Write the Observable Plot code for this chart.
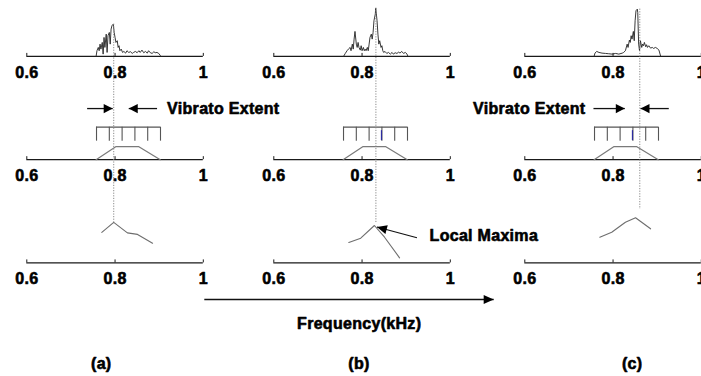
<!DOCTYPE html>
<html><head><meta charset="utf-8">
<script src="https://cdn.jsdelivr.net/npm/d3@7"></script>
<script src="https://cdn.jsdelivr.net/npm/@observablehq/plot@0.6"></script>
<style>
html,body{margin:0;padding:0;background:#fff;}
#chart{position:relative;width:701px;height:376px;overflow:hidden;background:#fff;}
#chart svg{position:absolute;top:0;overflow:visible;}
#chart text{letter-spacing:0.3px;}
#chart text.tl{letter-spacing:1px;}
</style></head><body><div id="chart"></div>
<script>
// ---------- data ----------
const panels = ["a", "b", "c"];
const panelLabels = ["(a)", "(b)", "(c)"];
const tickValues = [0.6, 0.8, 1];
const tickLabels = ["0.6", "0.8", "1"];
const rowLevels = [2, 1, 0];          // spectrum row, filter-bank row, output row
const ampPerRow = 103.25;             // amplitude units per row level

// spectra (frequency kHz, magnitude)
const specFreqA = [0.757,0.759,0.762,0.764,0.766,0.768,0.771,0.773,0.775,0.777,0.780,0.782,0.784,0.787,0.789,0.791,0.793,0.796,0.798,0.800,0.802,0.805,0.807,0.809,0.811,0.814,0.817,0.820,0.824,0.827,0.831,0.835,0.839,0.842,0.846,0.850,0.854,0.857,0.861,0.865,0.869,0.873,0.876,0.880,0.884,0.888,0.891,0.895,0.899,0.903,0.904];
const specAmpA  = [0,5.7,9,5.7,12.3,7.3,14,2.3,19,9,22.3,4,20.7,24,12.3,27.3,30.7,32.3,24,19,14,15.7,9,10.7,5.7,7.3,4,5,3.3,5.7,4,4.7,3,4,5,3.7,5.7,4,6.3,3.7,5,3.3,5.7,3.7,3,4.7,3.7,4,3,0.7,0];
const specFreqB = [0.758,0.762,0.766,0.769,0.773,0.775,0.778,0.780,0.782,0.784,0.787,0.789,0.791,0.793,0.796,0.798,0.800,0.803,0.805,0.807,0.809,0.812,0.814,0.816,0.818,0.821,0.823,0.825,0.827,0.830,0.831,0.834,0.836,0.838,0.840,0.843,0.845,0.847,0.849,0.852,0.856,0.860,0.864,0.868,0.871,0.875,0.879,0.883,0.886,0.890,0.894,0.898,0.902,0.904];
const specAmpB  = [0,3,5.7,7.3,9,5.7,12.3,7.3,17.3,25,12.3,9,14,9,6.3,10.7,5.7,9,5.7,7.3,5.7,9,5.7,12.3,19,22.3,17.3,24,35.7,42.3,48.3,35.7,22.3,12.3,15.7,9,10.7,5.7,4,5,3,4,2.3,4,2.3,3.7,3,4.3,3.3,5,3,4,2.3,0];
const specFreqC = [0.757,0.759,0.763,0.768,0.775,0.783,0.790,0.798,0.806,0.813,0.821,0.824,0.828,0.832,0.834,0.837,0.839,0.841,0.843,0.846,0.848,0.850,0.852,0.855,0.856,0.858,0.860,0.862,0.865,0.867,0.869,0.871,0.874,0.876,0.878,0.881,0.885,0.889,0.892,0.896,0.900,0.904,0.908];
const specAmpC  = [0,3.3,5,4,3.3,3,2.7,2.3,3,2.3,3.3,4,5.7,12.3,9,16.3,14,20.7,17.3,25,15.7,35.7,45.7,47.3,44,12.3,5.7,15.7,9,12.3,10.7,14,9.7,11.7,9,10.7,8.3,9,8,9,8,6.3,0];

// filter bank
const combFreq = [0.758, 0.787, 0.816, 0.845, 0.874, 0.903];
const combTopAmp = 32.5;
const combBottomAmp = 18.5;
const trapFreq = [0.757, 0.8015, 0.854, 0.9025];
const trapAmp = [0, 13, 13, 0];
const selectedFreq = [null, 0.844, 0.844];
const selectedAmp = [19, 29];

// output (filter-bank energies)
const outFreq = [0.770, 0.797, 0.828, 0.851, 0.885];
const outAmpA = [30.5, 40.5, 30, 28.5, 19.7];
const outAmpB = [20.4, 24.7, 37.4, 25.7, 5.1];
const outAmpC = [25.7, 30.7, 40.7, 45.1, 34.1];

// dotted peak guides
const peakFreq = [0.797, 0.8314, 0.8606];
const peakTopAmp = [32.3, 48.3, 47.3];
const peakBottomAmp = [40.5, 39.4, 53.4];

// annotations
const vibratoText = "Vibrato Extent";
const vibratoLevel = 1.495;
const vibratoArrowsA = [{from: 0.7367, to: 0.7947}, {from: 0.8952, to: 0.831}];
const vibratoArrowsC = [{from: 0.7556, to: 0.8266}, {from: 0.9263, to: 0.8622}];
const vibratoTextX = [0.918, null, 0.7375];
const localMaxText = "Local Maxima";
const localMaxArrow = {from: 0.9244, fromAmp: 25.2, to: 0.8337, toAmp: 35.9};
const localMaxTextPos = {x: 0.953, amp: 27.4};
const freqAxisText = "Frequency(kHz)";
const freqArrow = {from: 0.4425, to: 1.0983, level: -0.3545};
const freqTextPos = {x: 0.7935, level: -0.59};
const panelLabelX = [0.7687, 0.793, 0.8434];
const panelLabelLevel = -0.974;
const tickLen = 3;

// ---------- layout ----------
const panelLeft = [0, 247.4, 498];
const xDomain = [0.6, 1];

function headSymbol(angle, len, half) {
  const c = Math.cos(angle), s = Math.sin(angle);
  return {draw(ctx) {
    const bx = -len * c, by = -len * s;
    ctx.moveTo(0, 0);
    ctx.lineTo(bx - half * s, by + half * c);
    ctx.lineTo(bx + half * s, by - half * c);
    ctx.closePath();
  }};
}
const lvl = (row, amp) => row + amp / ampPerRow;
const bold = {fontSize: 16, fontWeight: "bold", fill: "#000", fontFamily: "Liberation Sans, Arial, sans-serif", stroke: "#000", strokeWidth: 0.6};

const specF = [specFreqA, specFreqB, specFreqC];
const specA = [specAmpA, specAmpB, specAmpC];
const outA = [outAmpA, outAmpB, outAmpC];

panels.forEach((key, i) => {
  const spectrum = specF[i].map((f, j) => ({f, a: specA[i][j]}));
  const trap = trapFreq.map((f, j) => ({f, a: trapAmp[j]}));
  const out = outFreq.map((f, j) => ({f, a: outA[i][j]}));
  const ticks = rowLevels.flatMap(r => tickValues.map((v, j) => ({r, v, label: tickLabels[j]})));
  const marks = [
    Plot.ruleY(rowLevels, {y: d => d, x1: xDomain[0], x2: xDomain[1], stroke: "#1a1a1a", strokeWidth: 1.2}),
    Plot.ruleX(ticks, {x: "v", y1: "r", y2: d => lvl(d.r, tickLen), stroke: "#1a1a1a", strokeWidth: 1}),
    Plot.text(ticks, {x: "v", y: "r", text: "label", dy: 16, lineAnchor: "middle", ...bold, className: "tl"}),
    // spectrum
    Plot.line(spectrum, {x: "f", y: d => lvl(2, d.a), stroke: "#222", strokeWidth: 0.9}),
    // filter bank comb
    Plot.ruleY([combTopAmp], {y: d => lvl(1, d), x1: combFreq[0], x2: combFreq[combFreq.length - 1], stroke: "#555", strokeWidth: 1.1}),
    Plot.ruleX(combFreq, {x: d => d, y1: lvl(1, combBottomAmp), y2: lvl(1, combTopAmp), stroke: "#555", strokeWidth: 1.1}),
    Plot.line(trap, {x: "f", y: d => lvl(1, d.a), stroke: "#7a7a7a", strokeWidth: 1.2}),
    // output curve
    Plot.line(out, {x: "f", y: d => lvl(0, d.a), stroke: "#6e6e6e", strokeWidth: 1.1}),
    // dotted guide
    Plot.ruleX([peakFreq[i]], {x: d => d, y1: lvl(2, peakTopAmp[i]), y2: lvl(0, peakBottomAmp[i]), stroke: "#8a8a8a", strokeWidth: 1, strokeDasharray: "1.2,1.4"})
  ];
  if (selectedFreq[i] != null) {
    marks.push(Plot.ruleX([selectedFreq[i]], {x: d => d, y1: lvl(1, selectedAmp[0]), y2: lvl(1, selectedAmp[1]), stroke: "#2b2ba0", strokeWidth: 1.2}));
  }
  const arrows = i === 0 ? vibratoArrowsA : i === 2 ? vibratoArrowsC : null;
  if (arrows) {
    marks.push(Plot.link(arrows, {x1: "from", x2: "to", y1: vibratoLevel, y2: vibratoLevel, stroke: "#111", strokeWidth: 1.3}));
    marks.push(Plot.dot(arrows.filter(d => d.to > d.from), {x: "to", y: vibratoLevel, symbol: headSymbol(0, 9, 4.6), r: 4, fill: "#000"}));
    marks.push(Plot.dot(arrows.filter(d => d.to < d.from), {x: "to", y: vibratoLevel, symbol: headSymbol(Math.PI, 9, 4.6), r: 4, fill: "#000"}));
    marks.push(Plot.text([vibratoText], {x: vibratoTextX[i], y: vibratoLevel, text: d => d, textAnchor: i === 0 ? "start" : "end", lineAnchor: "middle", ...bold}));
  }
  if (i === 1) {
    marks.push(Plot.link([localMaxArrow], {x1: "from", y1: d => lvl(0, d.fromAmp), x2: "to", y2: d => lvl(0, d.toAmp), stroke: "#111", strokeWidth: 1.2}));
    marks.push(Plot.dot([localMaxArrow], {x: "to", y: d => lvl(0, d.toAmp), symbol: headSymbol(Math.atan2(-10.7, -40), 10, 4.5), r: 4, fill: "#000"}));
    marks.push(Plot.text([localMaxText], {x: localMaxTextPos.x, y: lvl(0, localMaxTextPos.amp), text: d => d, textAnchor: "start", lineAnchor: "middle", ...bold}));
    marks.push(Plot.link([freqArrow], {x1: "from", x2: "to", y1: "level", y2: "level", stroke: "#111", strokeWidth: 1.3}));
    marks.push(Plot.dot([freqArrow], {x: "to", y: "level", symbol: headSymbol(0, 10, 4.6), r: 4, fill: "#000"}));
    marks.push(Plot.text([freqAxisText], {x: freqTextPos.x, y: freqTextPos.level, text: d => d, lineAnchor: "middle", ...bold}));
  }
  marks.push(Plot.text([panelLabels[i]], {x: panelLabelX[i], y: panelLabelLevel, text: d => d, lineAnchor: "middle", ...bold}));

  const svg = Plot.plot({
    width: 240, height: 376,
    marginLeft: 26.3, marginRight: 37.2, marginTop: 4.3, marginBottom: 10.35,
    x: {domain: xDomain, axis: null},
    y: {domain: [-1, 2.5], axis: null},
    style: {background: "transparent", overflow: "visible"},
    marks
  });
  svg.style.left = panelLeft[i] + "px";
  document.getElementById("chart").appendChild(svg);
});
</script></body></html>
